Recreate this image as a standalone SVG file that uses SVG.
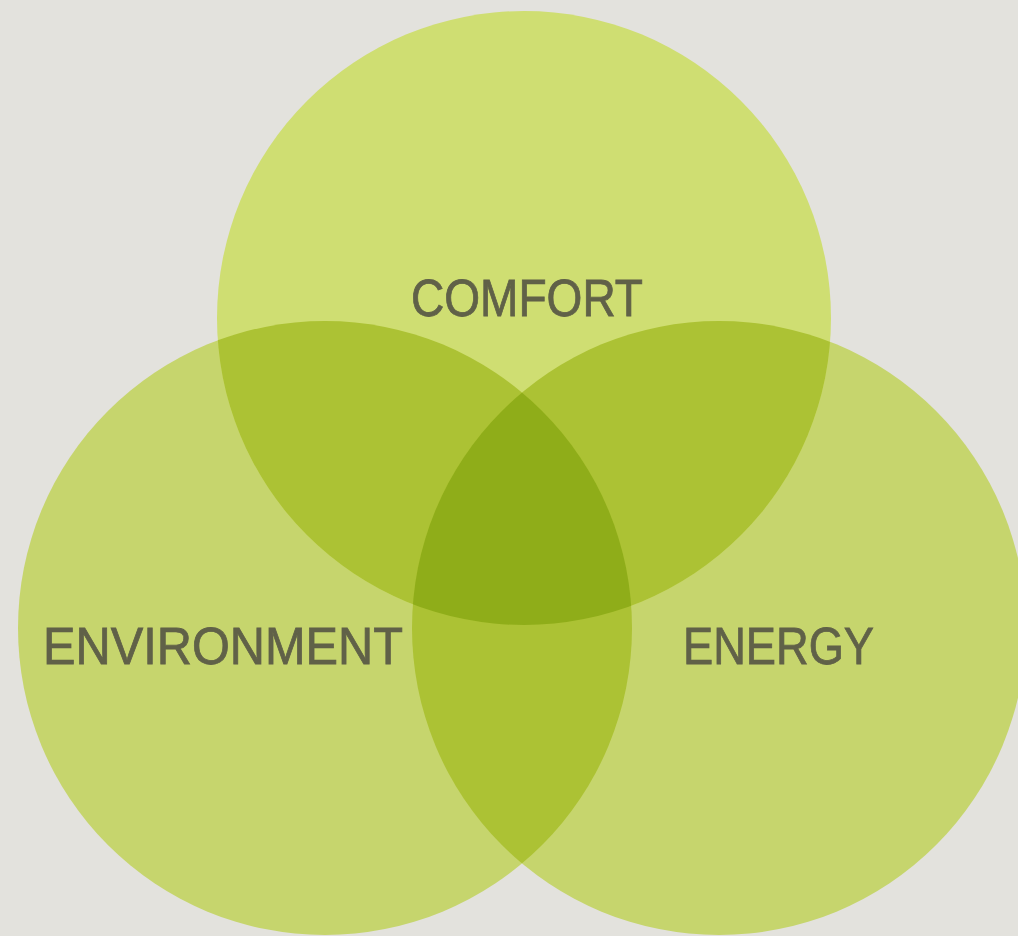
<svg xmlns="http://www.w3.org/2000/svg" width="1018" height="936" viewBox="0 0 1018 936">
<style>
.lbl{font-family:"Liberation Sans","DejaVu Sans",sans-serif;font-size:52px;fill:#606148;stroke:#606148;stroke-width:0.8}
</style>
<defs>
<clipPath id="cTop"><circle cx="524" cy="318" r="307"/></clipPath>
<clipPath id="cLeft"><circle cx="325" cy="628" r="307"/></clipPath>
<clipPath id="cRight"><circle cx="719" cy="628" r="307"/></clipPath>
</defs>
<rect width="1018" height="936" fill="#e3e2dd"/>
<g id="environment">
<circle cx="325" cy="628" r="307" fill="#c6d56d"/>
</g>
<g id="energy">
<circle cx="719" cy="628" r="307" fill="#c6d56d"/>
</g>
<g id="comfort">
<circle cx="524" cy="318" r="307" fill="#cfde72"/>
</g>
<g id="overlaps">
<g clip-path="url(#cTop)"><circle cx="325" cy="628" r="307" fill="#acc234"/><circle cx="719" cy="628" r="307" fill="#acc234"/></g>
<g clip-path="url(#cLeft)"><circle cx="719" cy="628" r="307" fill="#acc234"/></g>
<g clip-path="url(#cTop)"><g clip-path="url(#cLeft)"><circle cx="719" cy="628" r="307" fill="#8fad19"/></g></g>
</g>
<g id="labels">
<text class="lbl" x="411" y="316" textLength="232" lengthAdjust="spacingAndGlyphs">COMFORT</text>
<text class="lbl" x="43" y="664" textLength="360" lengthAdjust="spacingAndGlyphs">ENVIRONMENT</text>
<text class="lbl" x="683" y="664" textLength="191" lengthAdjust="spacingAndGlyphs">ENERGY</text>
</g>
</svg>
